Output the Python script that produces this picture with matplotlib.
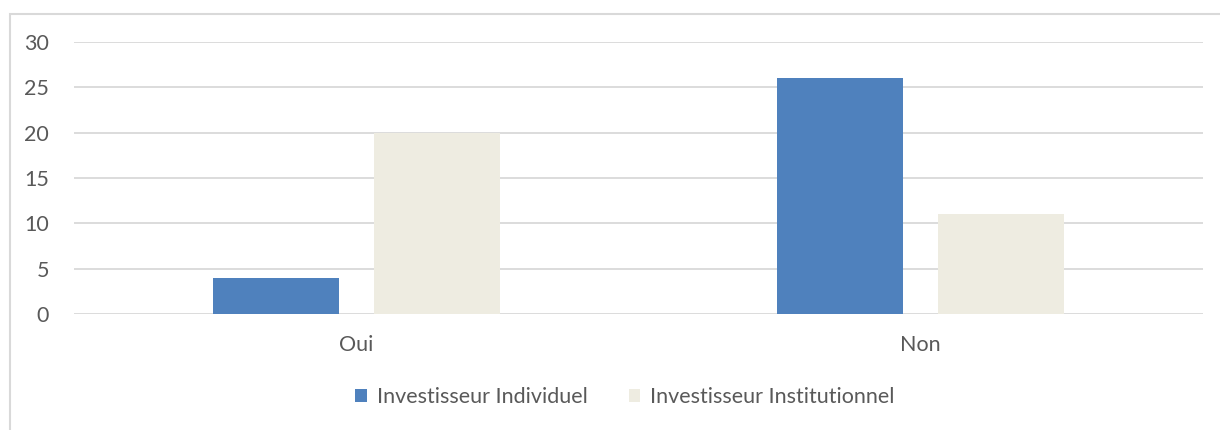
import matplotlib.pyplot as plt
from matplotlib.patches import Rectangle
import numpy as np

# Données
categories = ["Oui", "Non"]
individuel = [4, 26]
institutionnel = [20, 11]
series_noms = ["Investisseur Individuel", "Investisseur Institutionnel"]
yticks = [0, 5, 10, 15, 20, 25, 30]

plt.rcParams['font.family'] = ['Lato', 'DejaVu Sans']
gris_texte = "#595959"
gris_ligne = "#D9D9D9"

fig = plt.figure(figsize=(12.2, 4.3), dpi=100)
ax = fig.add_axes([74 / 1220, 116 / 430, 1129 / 1220, 272 / 430])

x = np.arange(len(categories))
largeur = 0.223
decal = 0.1425
ax.bar(x - decal, individuel, largeur, color="#4F81BD", label=series_noms[0], zorder=3)
ax.bar(x + decal, institutionnel, largeur, color="#EEECE1", label=series_noms[1], zorder=3)

ax.set_xlim(-0.5, 1.5)
ax.set_ylim(0, 30)
ax.set_yticks(yticks)
ax.set_xticks(x)
ax.set_xticklabels(categories)
ax.grid(axis="y", color=gris_ligne, linewidth=1.3, zorder=0)
for s in ax.spines.values():
    s.set_visible(False)
ax.tick_params(axis="both", length=0, labelsize=15.5, colors=gris_texte)
ax.tick_params(axis="y", pad=18)
ax.tick_params(axis="x", pad=15)

leg = fig.legend(loc="center", bbox_to_anchor=(625 / 1220, 1 - 397 / 430), ncol=2,
                 frameon=False, fontsize=15.5, handlelength=0.55, handleheight=0.55,
                 handletextpad=0.45, columnspacing=1.9)
for t in leg.get_texts():
    t.set_color(gris_texte)

# Cadre autour du graphique
fig.patches.append(Rectangle((9.5 / 1220, -0.05), 1.2, 1 - 13.5 / 430 + 0.05,
                             transform=fig.transFigure, fill=False,
                             edgecolor=gris_ligne, linewidth=1.5))

fig.savefig("out.png", dpi=100)
